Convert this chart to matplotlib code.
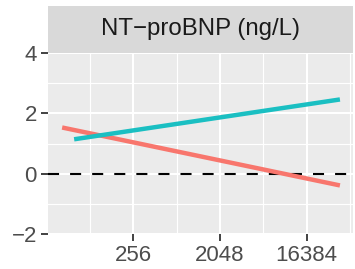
import matplotlib
matplotlib.use("Agg")
import matplotlib.pyplot as plt
import numpy as np

# Data (x in ng/L, log2 scale)
red_x = [46.5, 36300]
red_y = [1.53, -0.39]
teal_x = [62, 36300]
teal_y = [1.14, 2.46]
x_ticks = [256, 2048, 16384]
x_tick_labels = ["256", "2048", "16384"]
y_ticks = [-2, 0, 2, 4]
y_tick_labels = ["\u22122", "0", "2", "4"]
strip_title = "NT\u2212proBNP (ng/L)"

W, H = 355, 269
fig = plt.figure(figsize=(W / 100, H / 100), dpi=100)
plt.rcParams['font.family'] = ['Liberation Sans', 'DejaVu Sans']

pl, pr, pt, pb = 48, 353, 53, 234
ax = fig.add_axes([pl / W, 1 - pb / H, (pr - pl) / W, (pb - pt) / H])
ax.set_facecolor("#EBEBEB")
ax.set_xscale("log", base=2)
ax.set_xlim(2 ** 5.05, 2 ** 15.6)
ax.set_ylim(-2, 4)

# grid
for v in [2 ** 6.5, 2 ** 9.5, 2 ** 12.5, 2 ** 15.5]:
    ax.axvline(v, color="white", lw=0.8, zorder=0)
for v in [-1, 1, 3]:
    ax.axhline(v, color="white", lw=0.8, zorder=0)
for v in x_ticks:
    ax.axvline(v, color="white", lw=1.5, zorder=0)
for v in y_ticks:
    ax.axhline(v, color="white", lw=1.5, zorder=0)

ax.axhline(0, color="black", lw=1.5, dashes=(5.3, 5.3), zorder=2)
ax.plot(red_x, red_y, color="#F8766D", lw=3.2, solid_capstyle="butt", zorder=3)
ax.plot(teal_x, teal_y, color="#1ABFC2", lw=3.2, solid_capstyle="butt", zorder=3)

ax.set_xticks(x_ticks)
ax.set_xticklabels(x_tick_labels)
ax.set_yticks(y_ticks)
ax.set_yticklabels(y_tick_labels)
ax.xaxis.set_minor_locator(matplotlib.ticker.NullLocator())
ax.tick_params(axis="both", length=5, width=1.3, color="#333333",
               labelcolor="#4D4D4D", labelsize=16, pad=3)
for s in ax.spines.values():
    s.set_visible(False)

# strip
st, sb = 6, 53
sax = fig.add_axes([pl / W, 1 - sb / H, (pr - pl) / W, (sb - st) / H])
sax.set_facecolor("#D9D9D9")
sax.set_xticks([])
sax.set_yticks([])
for s in sax.spines.values():
    s.set_visible(False)
sax.text(0.5, 0.5, strip_title, ha="center", va="center", fontsize=17.3,
         color="#1A1A1A", transform=sax.transAxes)

fig.savefig("out.png", dpi=100)
